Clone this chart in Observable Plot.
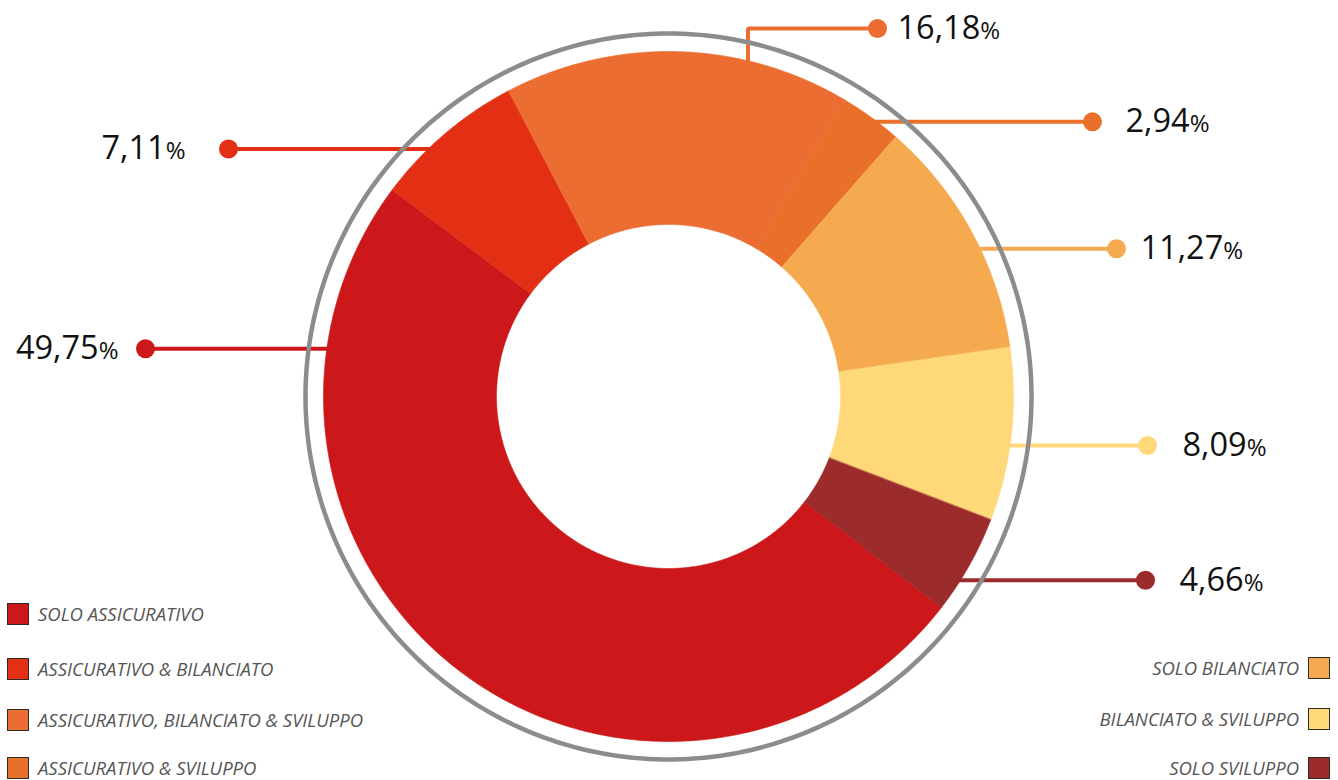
<!DOCTYPE html>
<html><head><meta charset="utf-8">
<script src="https://cdn.jsdelivr.net/npm/d3@7"></script>
<script src="https://cdn.jsdelivr.net/npm/@observablehq/plot@0.6"></script>
<style>
html,body{margin:0;padding:0;background:#fff;}
#wrap{position:relative;width:1338px;height:780px;overflow:hidden;font-family:"Open Sans",sans-serif;}
.item{position:absolute;display:flex;align-items:center;white-space:nowrap;font-style:italic;font-size:18.5px;color:#555;height:22px;}
.item .tx{line-height:16px;display:block;}
.sw{width:22px;height:22px;box-sizing:border-box;border:1.5px solid #2e2a28;flex:none;}
.left .sw{margin-right:9px;}
.right .sw{margin-left:9px;}
</style></head><body><div id="wrap"></div>
<script>
// ---- data ----
const categories = [
  "SOLO ASSICURATIVO",
  "ASSICURATIVO & BILANCIATO",
  "ASSICURATIVO, BILANCIATO & SVILUPPO",
  "ASSICURATIVO & SVILUPPO",
  "SOLO BILANCIATO",
  "BILANCIATO & SVILUPPO",
  "SOLO SVILUPPO"
];
const values = [49.75, 7.11, 16.18, 2.94, 11.27, 8.09, 4.66];
const colors = ["#cc181a", "#e32f14", "#ec6d31", "#e8702b", "#f5aa50", "#ffd979", "#9c2b2b"];

// ---- layout (annotation placement) ----
const startAngle = 127.7;                 // degrees, clockwise from top
const labelAnchorAngle = [-82, -43.8, 13.4, 36.8, 64.5, 98.2, 122.4];
const labelDotX = [-523, -440, 209, 424, 448, 479, 477];
const labelElbowY = [null, null, 368, null, null, null, null];
const labelGap = [27, 43, 20, 33, 24, 35, 34];
const legendLeft = [0, 1, 2, 3];
const legendRight = [4, 5, 6];

// geometry in chart units (1 unit = 1 px)
const W = 1338, H = 780;
const R = 345, r0 = 172, ringR = 363;
const deg = Math.PI / 180;
const pt = (a, rad) => [rad * Math.sin(a * deg), rad * Math.cos(a * deg)];

let acc = startAngle;
const arcs = values.map((v, i) => {
  const a0 = acc, a1 = acc + v * 3.6;
  acc = a1;
  return {name: categories[i], a0, a1};
});
const slicePts = [];
arcs.forEach(({name, a0, a1}) => {
  const n = Math.max(2, Math.ceil((a1 - a0) / 0.5));
  for (let k = 0; k <= n; k++) { const [x, y] = pt(a0 + (a1 - a0) * k / n, R); slicePts.push({name, x, y}); }
  for (let k = n; k >= 0; k--) { const [x, y] = pt(a0 + (a1 - a0) * k / n, r0); slicePts.push({name, x, y}); }
});
const ringPts = d3.range(0, 361, 1).map(a => { const [x, y] = pt(a, ringR); return {x, y}; });

const leaderPts = [];
const labelRows = [];
categories.forEach((name, i) => {
  const [ax, ay] = pt(labelAnchorAngle[i], R - 2);
  leaderPts.push({name, x: ax, y: ay});
  let ly = ay;
  if (labelElbowY[i] != null) { ly = labelElbowY[i]; leaderPts.push({name, x: ax, y: ly}); }
  leaderPts.push({name, x: labelDotX[i], y: ly});
  const side = labelDotX[i] < 0 ? -1 : 1;
  labelRows.push({
    name, y: ly, dx: labelDotX[i], side,
    tx: labelDotX[i] + side * labelGap[i],
    label: values[i].toFixed(2).replace(".", ",") + "%"
  });
});

const svg = Plot.plot({
  width: W, height: H,
  margin: 0,
  x: {domain: [-668, W - 668], axis: null},
  y: {domain: [-(H - 396), 396], axis: null},
  color: {domain: categories, range: colors},
  style: {fontFamily: "Open Sans", background: "transparent"},
  marks: [
    Plot.line(slicePts, {x: "x", y: "y", z: "name", fill: "name", stroke: "name", strokeWidth: 0.6, curve: "linear-closed"}),
    Plot.line(leaderPts, {x: "x", y: "y", z: "name", stroke: "name", strokeWidth: 4, strokeLinejoin: "miter", strokeLinecap: "butt"}),
    Plot.line(ringPts, {x: "x", y: "y", stroke: "#8c8c8c", strokeWidth: 4.5, curve: "linear-closed"}),
    Plot.dot(labelRows, {x: "dx", y: "y", r: 9.5, fill: "name", stroke: null}),
    Plot.text(labelRows.filter(d => d.side > 0), {x: "tx", y: "y", text: "label", textAnchor: "start", fontSize: 32.5, fill: "#111"}),
    Plot.text(labelRows.filter(d => d.side < 0), {x: "tx", y: "y", text: "label", textAnchor: "end", fontSize: 32.5, fill: "#111"})
  ]
});

// smaller percent sign
d3.select(svg).selectAll("text").each(function() {
  const s = this.textContent;
  if (s.endsWith("%")) {
    this.textContent = s.slice(0, -1);
    d3.select(this).append("tspan").attr("font-size", 24).text("%");
  }
});

const wrap = document.getElementById("wrap");
wrap.appendChild(svg);

// legend
const leftTops = [603, 658, 709, 757];
const rightTops = [657, 708, 757];
legendLeft.forEach((i, k) => {
  const el = document.createElement("div");
  el.className = "item left";
  el.style.left = "7px";
  el.style.top = leftTops[k] + "px";
  el.innerHTML = `<span class="sw" style="background:${colors[i]}"></span><span class="tx"></span>`;
  el.lastChild.textContent = categories[i];
  wrap.appendChild(el);
});
legendRight.forEach((i, k) => {
  const el = document.createElement("div");
  el.className = "item right";
  el.style.right = (W - 1330) + "px";
  el.style.top = rightTops[k] + "px";
  el.innerHTML = `<span class="tx"></span><span class="sw" style="background:${colors[i]}"></span>`;
  el.firstChild.textContent = categories[i];
  wrap.appendChild(el);
});
</script>
</body></html>
